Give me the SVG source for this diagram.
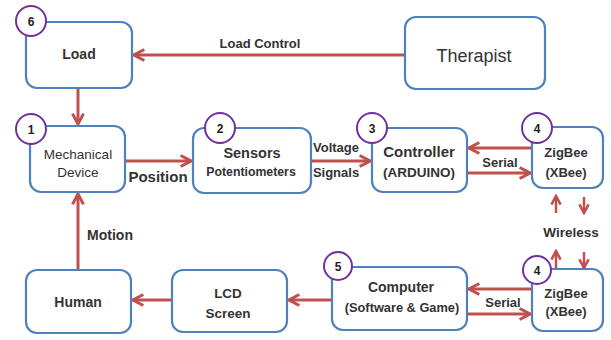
<svg xmlns="http://www.w3.org/2000/svg" width="611" height="340" viewBox="0 0 611 340">
<defs>
<style>
.box{fill:#fff;stroke:#4f81bd;stroke-width:2.2}
.num{fill:#fff;stroke:#7030a0;stroke-width:2}
.ln{stroke:#c0504d;stroke-width:3;fill:none;marker-end:url(#ah)}
.wl{stroke:#c0504d;stroke-width:2.5;fill:none;marker-end:url(#ahs)}
text{font-family:"Liberation Sans",Arial,sans-serif;fill:#333;text-anchor:middle}
.b{font-weight:bold}
.n{font-weight:bold;font-size:12px;fill:#222}
</style>
<marker id="ah" viewBox="0 0 10 10" refX="8.5" refY="5" markerWidth="4.6" markerHeight="4.6" orient="auto">
<path d="M1,1 L8.5,5 L1,9" fill="none" stroke="#c0504d" stroke-width="2.2"/>
</marker>
<marker id="ahs" viewBox="0 0 10 10" refX="8.5" refY="5" markerWidth="4.6" markerHeight="4.6" orient="auto">
<path d="M1,1 L8.5,5 L1,9" fill="none" stroke="#c0504d" stroke-width="2.2"/>
</marker>
</defs>
<rect width="611" height="340" fill="#fff"/>
<g id="connectors">
<line class="ln" x1="404" y1="55" x2="134" y2="55"/>
<text class="b" x="260" y="48" font-size="13">Load Control</text>
<line class="ln" x1="78" y1="88" x2="78" y2="124"/>
<line class="ln" x1="126" y1="161" x2="191" y2="161"/>
<text class="b" x="158" y="182" font-size="15">Position</text>
<line class="ln" x1="312" y1="161" x2="370" y2="161"/>
<text class="b" x="336" y="152" font-size="13">Voltage</text>
<text class="b" x="336" y="177" font-size="13">Signals</text>
<line class="ln" x1="531" y1="148" x2="469" y2="148"/>
<line class="ln" x1="468" y1="173" x2="530" y2="173"/>
<text class="b" x="500" y="167" font-size="13">Serial</text>
<line class="wl" x1="556" y1="213" x2="556" y2="196"/>
<line class="wl" x1="584" y1="197" x2="584" y2="213"/>
<text class="b" x="571" y="237" font-size="13.5">Wireless</text>
<line class="wl" x1="556" y1="268" x2="556" y2="251"/>
<line class="wl" x1="584" y1="252" x2="584" y2="268"/>
<line class="ln" x1="531" y1="289" x2="469" y2="289"/>
<line class="ln" x1="468" y1="314" x2="530" y2="314"/>
<text class="b" x="503" y="307" font-size="13">Serial</text>
<line class="ln" x1="332" y1="300" x2="289" y2="300"/>
<line class="ln" x1="172" y1="300" x2="133" y2="300"/>
<line class="ln" x1="78" y1="270" x2="78" y2="194"/>
<text class="b" x="110" y="240" font-size="14">Motion</text>
</g>
<g id="load">
<rect class="box" x="26" y="22" width="106" height="66" rx="11"/>
<text class="b" x="79" y="59" font-size="14">Load</text>
<circle class="num" cx="31" cy="21" r="15"/>
<text class="n" x="31" y="25.5">6</text>
</g>
<g id="therapist">
<rect class="box" x="405" y="17" width="140" height="72" rx="11"/>
<text x="474" y="62" font-size="18">Therapist</text>
</g>
<g id="mechanical">
<rect class="box" x="30" y="126" width="95" height="66" rx="11"/>
<text x="78" y="159" font-size="13.5">Mechanical</text>
<text x="78" y="177" font-size="13.5">Device</text>
<circle class="num" cx="31" cy="129" r="15"/>
<text class="n" x="31" y="133.5">1</text>
</g>
<g id="sensors">
<rect class="box" x="193" y="128" width="118" height="65" rx="11"/>
<text class="b" x="252" y="158" font-size="14.5">Sensors</text>
<text class="b" x="251" y="176" font-size="12.3">Potentiometers</text>
<circle class="num" cx="220" cy="128" r="15"/>
<text class="n" x="220" y="132.5">2</text>
</g>
<g id="controller">
<rect class="box" x="372" y="128" width="95" height="64" rx="11"/>
<text class="b" x="419" y="157" font-size="15">Controller</text>
<text class="b" x="419" y="177" font-size="13.5">(ARDUINO)</text>
<circle class="num" cx="372" cy="128" r="15"/>
<text class="n" x="372" y="132.5">3</text>
</g>
<g id="zigbee1">
<rect class="box" x="532" y="127" width="71" height="61" rx="11"/>
<text class="b" x="566" y="157" font-size="13">ZigBee</text>
<text class="b" x="566" y="177" font-size="13">(XBee)</text>
<circle class="num" cx="537" cy="128" r="15"/>
<text class="n" x="537" y="132.5">4</text>
</g>
<g id="human">
<rect class="box" x="26" y="270" width="105" height="63" rx="11"/>
<text class="b" x="78" y="307" font-size="14">Human</text>
</g>
<g id="lcd">
<rect class="box" x="172" y="270" width="115" height="62" rx="11"/>
<text class="b" x="228" y="298" font-size="13.5">LCD</text>
<text class="b" x="228" y="318" font-size="13.5">Screen</text>
</g>
<g id="computer">
<rect class="box" x="332" y="267" width="135" height="63" rx="11"/>
<text class="b" x="401" y="292" font-size="14">Computer</text>
<text class="b" x="402" y="312" font-size="12.8">(Software &amp; Game)</text>
<circle class="num" cx="338" cy="266" r="14"/>
<text class="n" x="338" y="270.5">5</text>
</g>
<g id="zigbee2">
<rect class="box" x="532" y="269" width="71" height="62" rx="11"/>
<text class="b" x="566" y="298" font-size="13">ZigBee</text>
<text class="b" x="566" y="316" font-size="13">(XBee)</text>
<circle class="num" cx="537" cy="270" r="14"/>
<text class="n" x="537" y="274.5">4</text>
</g>
</svg>
